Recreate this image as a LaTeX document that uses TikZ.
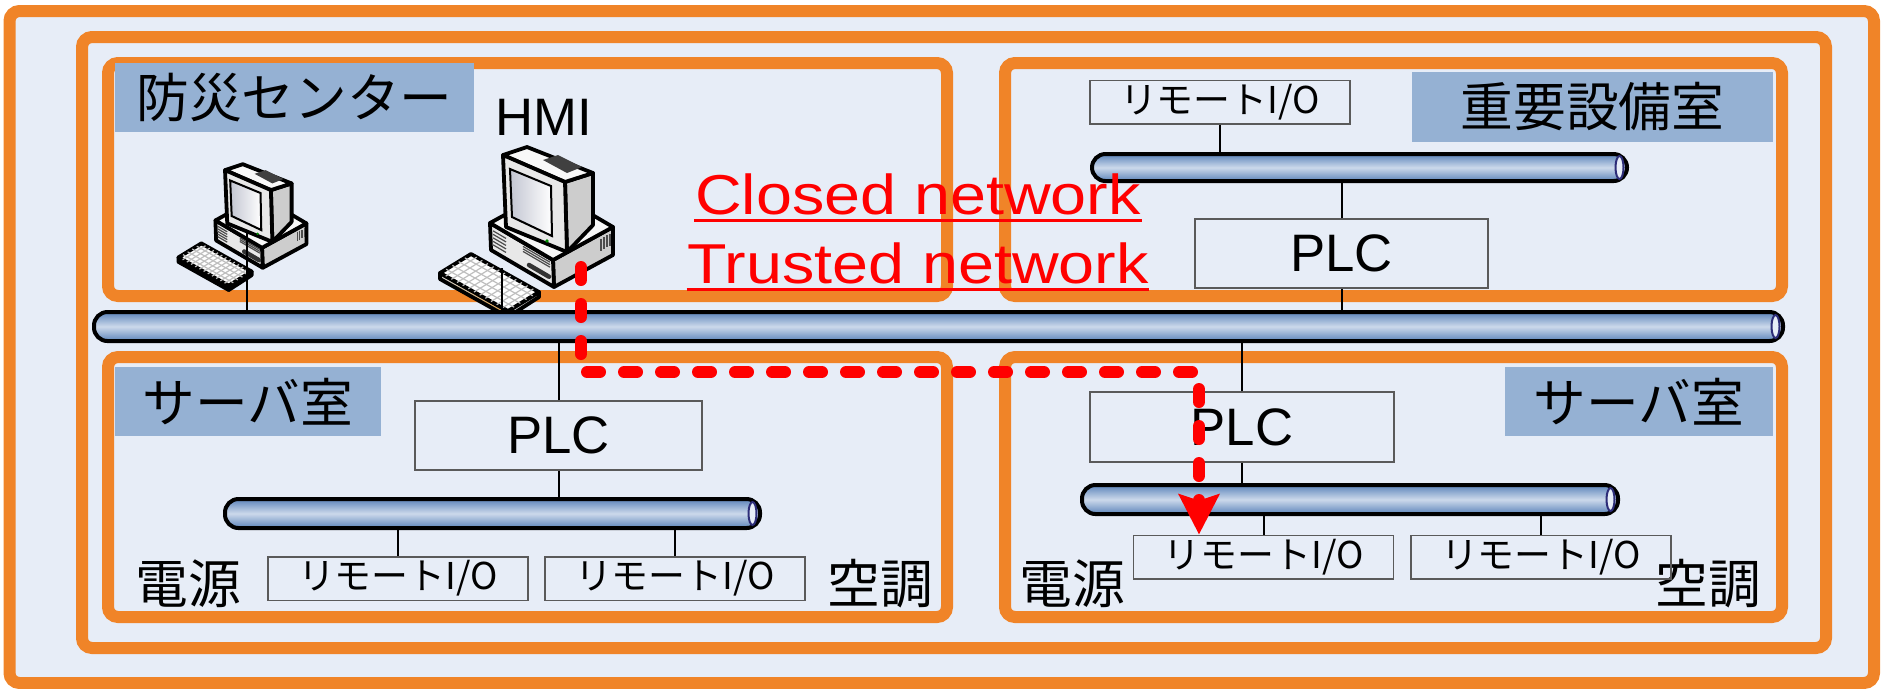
\documentclass[tikz,border=0pt]{standalone}
\usepackage{fontspec}
\setmainfont{Liberation Sans}
\newfontfamily\jpfont{Noto Sans CJK JP}
\newfontfamily\netfont[FakeStretch=1.15]{Liberation Sans}
\usetikzlibrary{arrows.meta,fit,calc}

\definecolor{panelbg}{RGB}{231,237,247}
\definecolor{roomorange}{RGB}{240,132,40}
\definecolor{tagblue}{RGB}{149,177,211}
\definecolor{busedge}{RGB}{92,132,186}
\definecolor{buslight}{RGB}{204,217,235}
\definecolor{capnavy}{RGB}{45,45,120}
\definecolor{boxline}{RGB}{90,90,90}
\definecolor{pcfront}{RGB}{232,232,232}
\definecolor{pcside}{RGB}{205,205,205}
\definecolor{pctop}{RGB}{248,248,248}
\definecolor{pcscreen}{RGB}{195,198,210}
\definecolor{keyedge}{RGB}{226,160,70}

\newcommand\jplarge{\jpfont\fontsize{15}{18}\selectfont}
\newcommand\jpsmall{\jpfont\fontsize{10.5}{12}\selectfont}

\tikzset{
  pics/pc/.style={code={
    % desktop case
    \draw[pcbody,fill=pcside]  (123,120) -- (183,87) -- (183,115) -- (124,147) -- cycle;
    \draw[pcbody,fill=pcfront] (60,83) -- (123,120) -- (124,147) -- (61,110) -- cycle;
    \draw[pcbody,fill=pctop]   (60,83) -- (120,50) -- (183,87) -- (123,120) -- cycle;
    \foreach \k in {0,...,4}
      \draw[pcthin] (63,{90.8+3.5*\k}) -- ++(13,7.6);
    \foreach \k in {0,1,2}
      \draw[pcthin] (93,{106.4+2.5*\k}) -- ++(27,15.8);
    \draw[line width=0.45mm,line cap=round,black!80] (99,125) -- ++(20,11.7);
    \foreach \k in {0,...,3}
      \draw[pcthin] ({171+3*\k},{98.6-1.65*\k}) -- ++(0,12);
    % monitor
    \draw[pcbody,fill=pcside]  (135,42) -- (163,33) -- (163,85) -- (137,112) -- cycle;
    \draw[pcbody,fill=pctop]   (73,15) -- (97,7) -- (163,33) -- (135,42) -- cycle;
    \draw[pcbody,fill=pcfront] (73,15) -- (135,42) -- (137,112) -- (76,87) -- cycle;
    \draw[pcthin,draw=black,line width=0.2mm,left color=pcscreen,right color=white]
      (80,29) -- (121,46) -- (122,96) -- (82,77) -- cycle;
    \fill[black!75] (113,20) -- (128,15) -- (152,27) -- (137,33) -- cycle;
    \fill[green!55!black] (117,101) circle (0.18mm);
    % keyboard
    \draw[pcbody,left color=pcside,right color=keyedge]
      (10,133) -- (78,171) -- (78,177) -- (10,139) -- cycle;
    \draw[pcbody,fill=pcside] (78,171) -- (109,152) -- (109,157) -- (78,177) -- cycle;
    \draw[pcbody,fill=white] (10,133) -- (41,114) -- (109,152) -- (78,171) -- cycle;
    \foreach \i in {1,...,4}
      \draw[keyline] ({10+6.2*\i},{133-3.8*\i}) -- ++(68,38);
    \foreach \j in {1,...,11}
      \draw[keyline] ({10+68*\j/12},{133+38*\j/12}) -- ++(31,-19);
  }}
}

\begin{document}
\begin{tikzpicture}[
  x=0.1mm,y=-0.1mm,
  frame/.style ={draw=roomorange,line width=1.2mm,rounded corners=1mm,inner sep=0pt,outer sep=0pt},
  room/.style  ={frame},
  tag/.style   ={fill=tagblue,inner sep=0pt,font=\jplarge},
  note/.style  ={inner sep=0pt,font=\jplarge},
  dev/.style   ={draw=boxline,line width=0.15mm,inner sep=0pt,font=\fontsize{15}{18}\selectfont},
  rio/.style   ={dev,minimum width=26mm,minimum height=4.35mm,font=\jpsmall},
  bus/.style   ={draw=black,line width=0.4mm,rounded corners=1.35mm,inner sep=0pt,outer sep=0pt,
                 top color=busedge,bottom color=busedge,middle color=buslight},
  buscap/.style={draw=capnavy,fill=panelbg,line width=0.2mm},
  wire/.style  ={line width=0.2mm},
  net/.style   ={text=red,inner sep=0pt,font=\netfont\fontsize{16}{19}\selectfont},
  uline/.style ={draw=red,line width=0.3mm},
  trust/.style ={draw=red,line width=1.2mm,line cap=round,dash pattern=on 1.3mm off 2.4mm,
                 -{Stealth[length=4mm,width=4mm,inset=0.6mm]}},
  pcbody/.style={draw=black,line width=0.38mm,line join=round},
  pcthin/.style={draw=black!70,line width=0.12mm},
  keyline/.style={draw=black!25,line width=0.12mm}
]
\useasboundingbox (0,0) rectangle (1886,688);

% ======== frames and rooms
\node[frame,fill=panelbg,fit={(9.5,11)(1874,683)}] (outer) {};
\node[frame,fit={(82,37)(1826,648)}] (plant) {};

\node[room,fit={(108,63)(947,296)}]   (bousai)  {};
\node[room,fit={(1005,63)(1782,296)}] (juyo)    {};
\node[room,fit={(108,357)(947,617)}]  (serverL) {};
\node[room,fit={(1005,357)(1782,617)}] (serverR) {};

\node[tag,minimum width=35.9mm,minimum height=6.9mm] (bousaiTag)  at (294.5,97.5)  {防災センター};
\node[tag,minimum width=36.1mm,minimum height=7mm]   (juyoTag)    at (1592.5,107)  {重要設備室};
\node[tag,minimum width=26.6mm,minimum height=6.9mm] (serverLTag) at (248,401.5)   {サーバ室};
\node[tag,minimum width=26.8mm,minimum height=6.9mm] (serverRTag) at (1639,401.5)  {サーバ室};

\node[note] (powerL) at (188,583.5)    {電源};
\node[note] (acL)    at (880,583.5)    {空調};
\node[note] (powerR) at (1072.5,583.5) {電源};
\node[note] (acR)    at (1708,583.5)   {空調};

% ======== terminals
\pic[scale=0.74] at (171,159) {pc};
\pic at (430,140) {pc};
\node[anchor=base,inner sep=0pt,font=\fontsize{15}{18}\selectfont] (hmiLbl) at (543.5,135) {HMI};

% ======== buses
\node[bus,fit={(94,312)(1783,341)}]   (mainbus) {};
\node[bus,fit={(225,499)(760,528)}]   (busL)    {};
\node[bus,fit={(1092,154)(1627,181)}] (busT)    {};
\node[bus,fit={(1082,485)(1618,514)}] (busR)    {};
\foreach \b in {mainbus,busL,busT,busR}
  \draw[buscap] ([xshift=-0.75mm]\b.east) ellipse [x radius=0.4mm,y radius=1.15mm];

% ======== controllers and I/O
\node[dev,minimum width=28.7mm,minimum height=6.9mm] (plcL) at (558.5,435.5) {PLC};
\node[dev,minimum width=29.3mm,minimum height=6.9mm] (plcT) at (1341.5,253.5) {PLC};
\node[dev,minimum width=30.4mm,minimum height=7mm]   (plcR) at (1242,427)     {PLC};
\node[rio] (rioT)  at (1220,102)    {リモートI/O};
\node[rio] (rioL1) at (398,578.5)   {リモートI/O};
\node[rio] (rioL2) at (675,578.5)   {リモートI/O};
\node[rio] (rioR1) at (1263.5,557)  {リモートI/O};
\node[rio] (rioR2) at (1541,557)    {リモートI/O};

% ======== wiring
\coordinate (pcLport) at (247,232);
\coordinate (hmiport) at (502,268);
\draw[wire] (pcLport) -- (pcLport |- mainbus.north);
\draw[wire] (hmiport) -- (hmiport |- mainbus.north);
\draw[wire] (plcL.north)  -- (plcL.north |- mainbus.south);
\draw[wire] (plcL.south)  -- (plcL.south |- busL.north);
\draw[wire] (rioL1.north) -- (rioL1.north |- busL.south);
\draw[wire] (rioL2.north) -- (rioL2.north |- busL.south);
\draw[wire] (plcT.south)  -- (plcT.south |- mainbus.north);
\draw[wire] (plcT.north)  -- (plcT.north |- busT.south);
\draw[wire] (rioT.south)  -- (rioT.south |- busT.north);
\draw[wire] (plcR.north)  -- (plcR.north |- mainbus.south);
\draw[wire] (plcR.south)  -- (plcR.south |- busR.north);
\draw[wire] (rioR1.north) -- (rioR1.north |- busR.south);
\draw[wire] (rioR2.north) -- (rioR2.north |- busR.south);

% ======== trusted path
\node[net,anchor=base] (closed)  at (918,214) {Closed network};
\node[net,anchor=base] (trusted) at (918,283) {Trusted network};
\foreach \t in {closed,trusted}
  \draw[uline] ([yshift=-0.6mm]\t.base west) -- ([yshift=-0.6mm]\t.base east);
\coordinate (trustA) at (581,267);
\coordinate (trustB) at (1199,372);
\draw[trust] (trustA) |- (trustB) -- (trustB |- rioR1.north);
\end{tikzpicture}
\end{document}
